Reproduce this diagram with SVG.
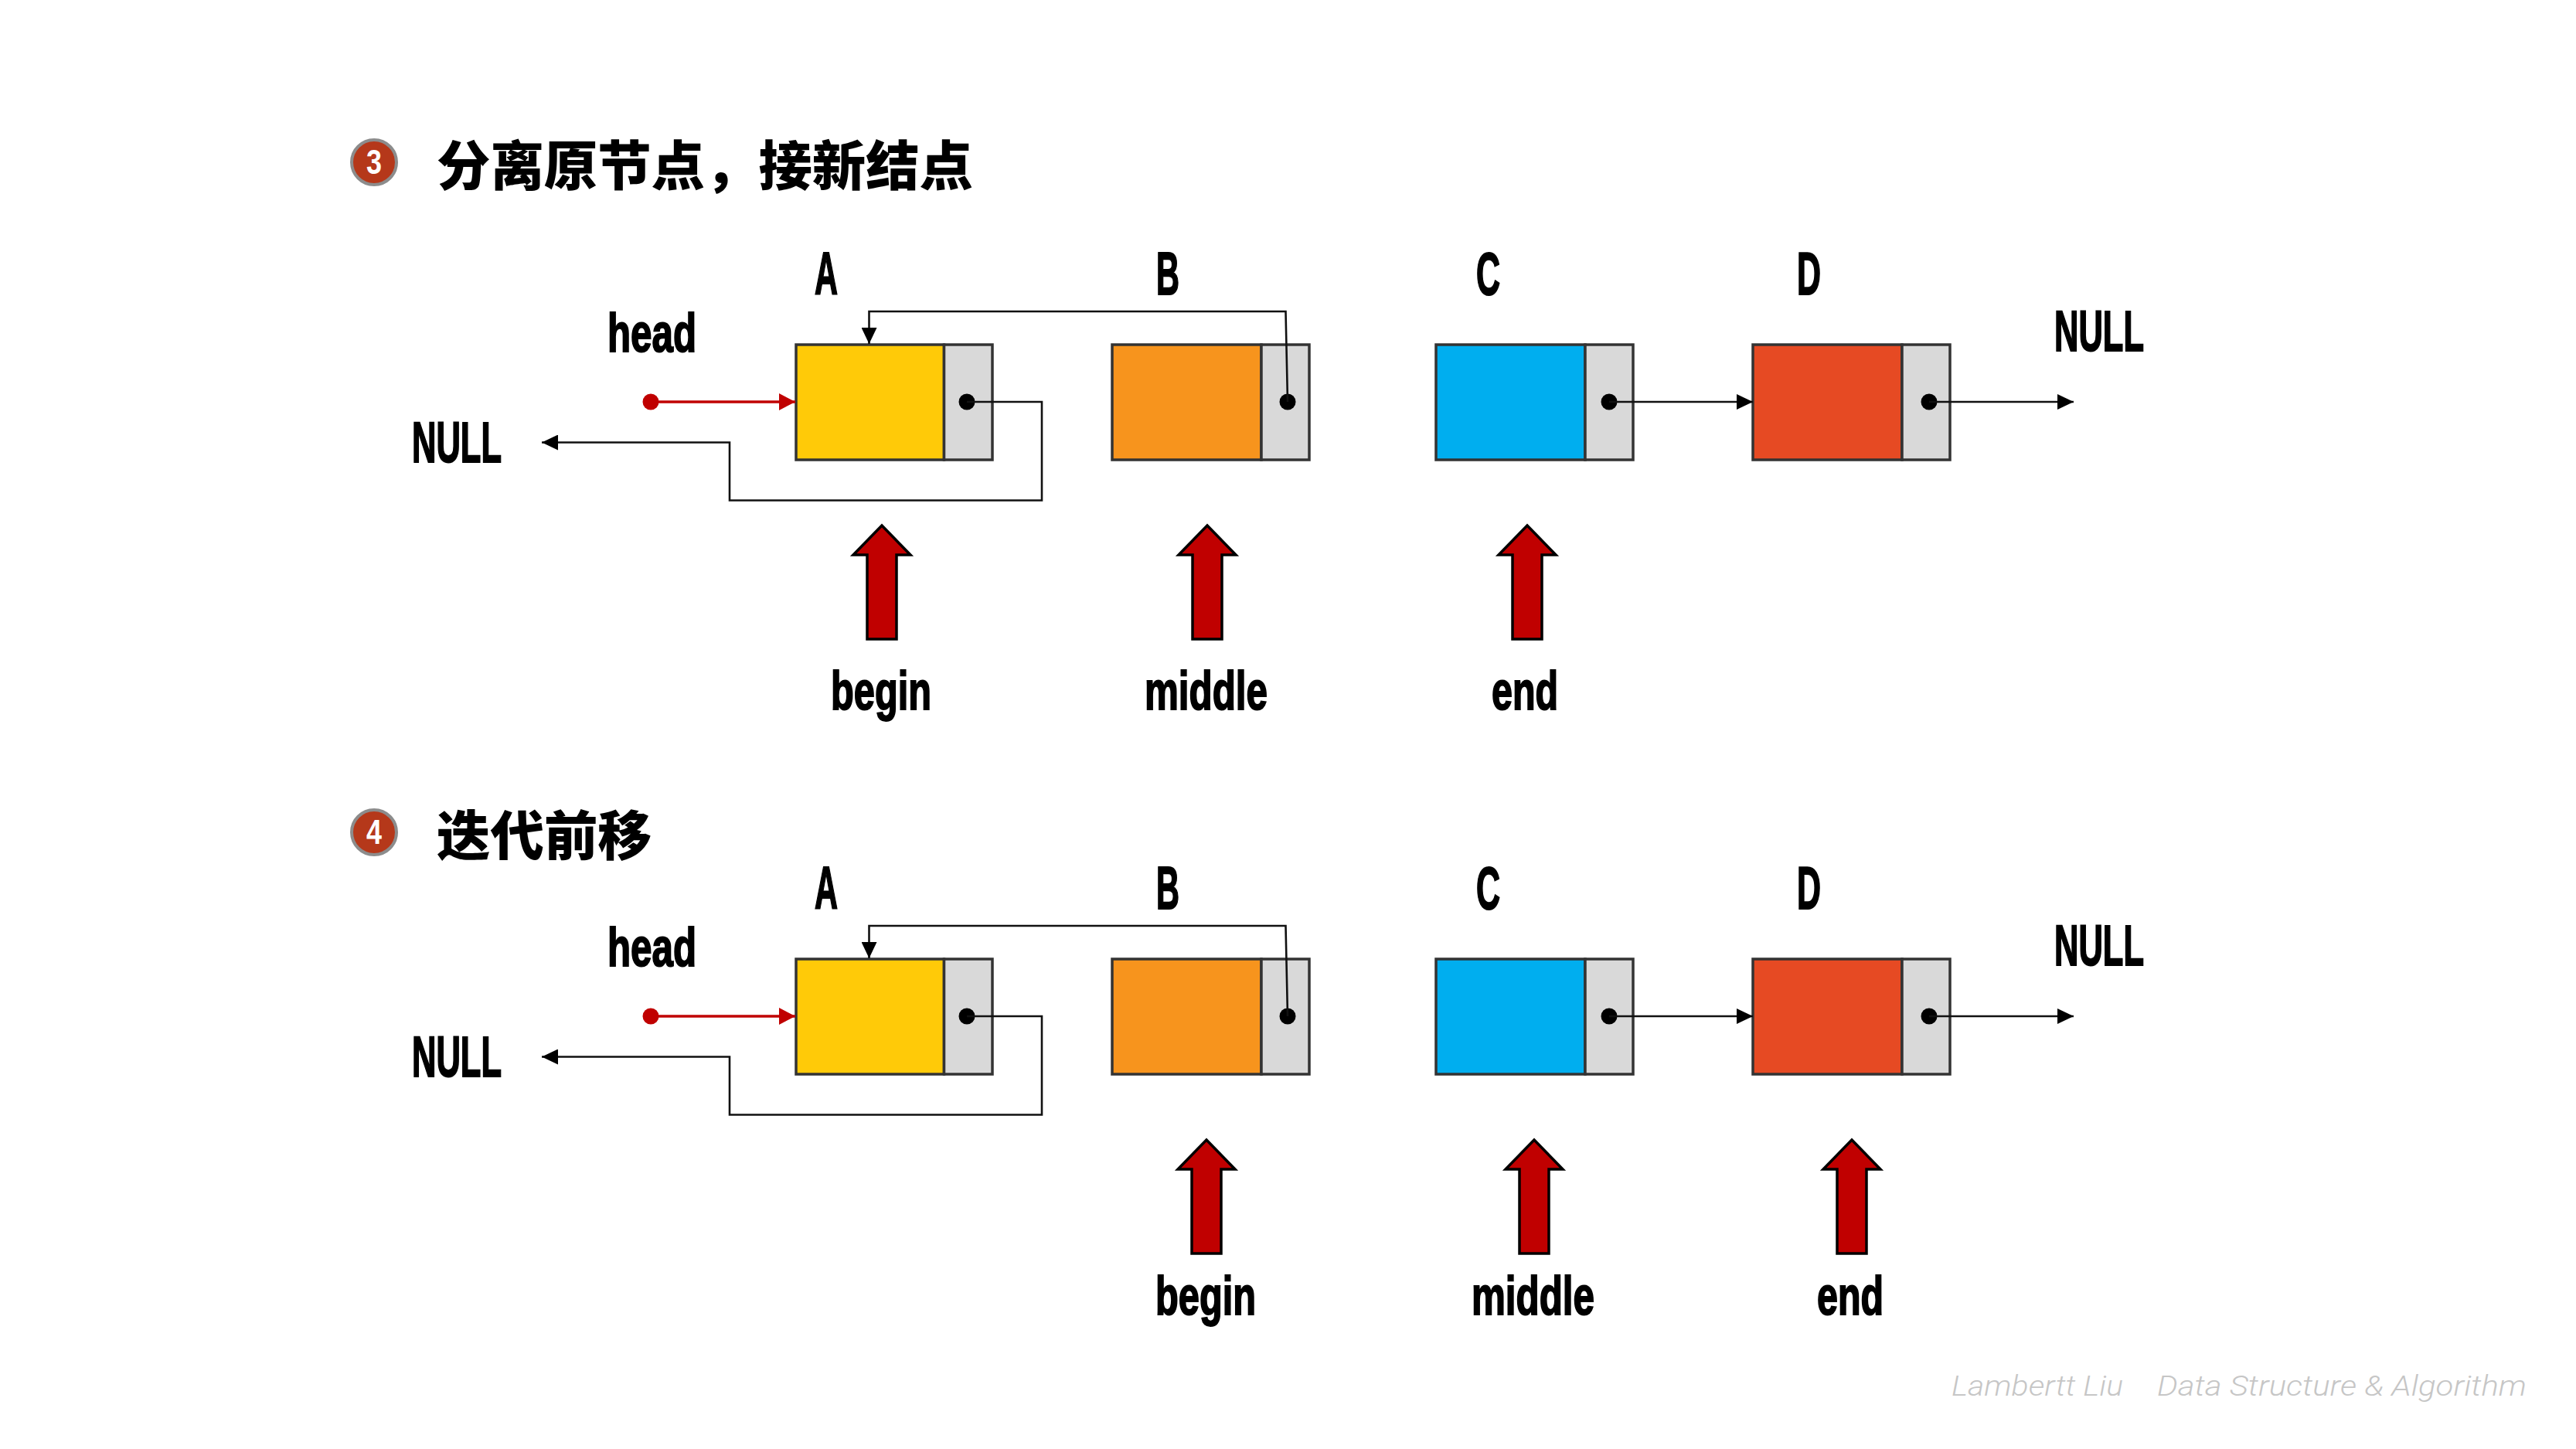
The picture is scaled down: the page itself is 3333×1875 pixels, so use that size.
<svg xmlns="http://www.w3.org/2000/svg" width="3333" height="1875" viewBox="0 0 3333 1875">
<style>
.lbl{font-family:"Liberation Sans",Arial,sans-serif;font-weight:700;font-size:75px;fill:#000;stroke:#000;stroke-width:2px}
.cap{font-size:77px}
.low{font-size:71px}
.title{font-family:"Noto Sans CJK SC",sans-serif;font-weight:900;font-size:69px;fill:#000}
.num{font-family:"Liberation Sans",Arial,sans-serif;font-weight:700;font-size:44px;fill:#fff}
.badge{fill:#B5381A;stroke:#8C8C8C;stroke-width:4}
.wm{font-family:Roboto,"Liberation Sans",sans-serif;font-style:italic;font-weight:300;font-size:37px;fill:#C6C6C6}
.box{stroke:#333;stroke-width:3.5}
.y{fill:#FFCA08}.o{fill:#F7941D}.b{fill:#00AEEF}.r{fill:#E64A23}.g{fill:#D9D9D9}
.dot{fill:#000}
.wire{fill:none;stroke:#111;stroke-width:2.6}
.head{fill:none;stroke:#C00000;stroke-width:3.5}
.big{fill:#C00000;stroke:#000;stroke-width:3.5}
</style>
<defs>
<marker id="ah" markerUnits="userSpaceOnUse" markerWidth="21" markerHeight="20" refX="21" refY="10" orient="auto"><path d="M0,0L21,10L0,20z" fill="#000"/></marker>
<marker id="ar" markerUnits="userSpaceOnUse" markerWidth="21" markerHeight="22" refX="21" refY="11" orient="auto"><path d="M0,0L21,11L0,22z" fill="#C00000"/></marker>
</defs>
<rect width="3333" height="1875" fill="#fff"/>

<g id="title3"><circle class="badge" cx="484" cy="210" r="29"/><text class="num" x="474" y="225" textLength="20" lengthAdjust="spacingAndGlyphs">3</text><text class="title" x="565" y="240" textLength="694" lengthAdjust="spacingAndGlyphs">分离原节点，接新结点</text></g>
<g id="title4"><circle class="badge" cx="484" cy="1077" r="29"/><text class="num" x="474" y="1092" textLength="20" lengthAdjust="spacingAndGlyphs">4</text><text class="title" x="565" y="1107" textLength="278" lengthAdjust="spacingAndGlyphs">迭代前移</text></g>

<g id="s3-A"><rect class="box y" x="1030" y="446" width="191.500" height="149"/><rect class="box g" x="1221.500" y="446" width="62.500" height="149"/><circle class="dot" cx="1251" cy="520" r="10.500"/><text class="lbl cap" x="1054" y="381" textLength="30" lengthAdjust="spacingAndGlyphs">A</text></g>
<g id="s3-B"><rect class="box o" x="1439" y="446" width="193" height="149"/><rect class="box g" x="1632" y="446" width="62" height="149"/><circle class="dot" cx="1666" cy="520" r="10.500"/><text class="lbl cap" x="1496" y="381" textLength="30" lengthAdjust="spacingAndGlyphs">B</text></g>
<g id="s3-C"><rect class="box b" x="1858" y="446" width="193" height="149"/><rect class="box g" x="2051" y="446" width="62" height="149"/><circle class="dot" cx="2082" cy="520" r="10.500"/><text class="lbl cap" x="1910" y="381" textLength="31" lengthAdjust="spacingAndGlyphs">C</text></g>
<g id="s3-D"><rect class="box r" x="2268" y="446" width="193" height="149"/><rect class="box g" x="2461" y="446" width="62" height="149"/><circle class="dot" cx="2496" cy="520" r="10.500"/><text class="lbl cap" x="2325" y="381" textLength="31" lengthAdjust="spacingAndGlyphs">D</text></g>
<g id="s3-head"><text class="lbl low" x="786" y="455" textLength="115" lengthAdjust="spacingAndGlyphs">head</text><circle cx="842" cy="520" r="10.500" fill="#C00000"/></g>
<g id="s3-nullL"><text class="lbl" x="533" y="598" textLength="116" lengthAdjust="spacingAndGlyphs">NULL</text></g>
<g id="s3-nullR"><text class="lbl" x="2658" y="454" textLength="116" lengthAdjust="spacingAndGlyphs">NULL</text></g>
<g id="s3-begin"><polygon class="big" points="1141,680 1178,718 1160,718 1160,827 1122,827 1122,718 1104,718"/><text class="lbl low" x="1075" y="918" textLength="130" lengthAdjust="spacingAndGlyphs">begin</text></g>
<g id="s3-middle"><polygon class="big" points="1562,680 1599,718 1581,718 1581,827 1543,827 1543,718 1525,718"/><text class="lbl low" x="1481" y="918" textLength="159" lengthAdjust="spacingAndGlyphs">middle</text></g>
<g id="s3-end"><polygon class="big" points="1976,680 2013,718 1995,718 1995,827 1957,827 1957,718 1939,718"/><text class="lbl low" x="1930" y="918" textLength="86" lengthAdjust="spacingAndGlyphs">end</text></g>

<g id="s4-A"><rect class="box y" x="1030" y="1241" width="191.500" height="149"/><rect class="box g" x="1221.500" y="1241" width="62.500" height="149"/><circle class="dot" cx="1251" cy="1315" r="10.500"/><text class="lbl cap" x="1054" y="1176" textLength="30" lengthAdjust="spacingAndGlyphs">A</text></g>
<g id="s4-B"><rect class="box o" x="1439" y="1241" width="193" height="149"/><rect class="box g" x="1632" y="1241" width="62" height="149"/><circle class="dot" cx="1666" cy="1315" r="10.500"/><text class="lbl cap" x="1496" y="1176" textLength="30" lengthAdjust="spacingAndGlyphs">B</text></g>
<g id="s4-C"><rect class="box b" x="1858" y="1241" width="193" height="149"/><rect class="box g" x="2051" y="1241" width="62" height="149"/><circle class="dot" cx="2082" cy="1315" r="10.500"/><text class="lbl cap" x="1910" y="1176" textLength="31" lengthAdjust="spacingAndGlyphs">C</text></g>
<g id="s4-D"><rect class="box r" x="2268" y="1241" width="193" height="149"/><rect class="box g" x="2461" y="1241" width="62" height="149"/><circle class="dot" cx="2496" cy="1315" r="10.500"/><text class="lbl cap" x="2325" y="1176" textLength="31" lengthAdjust="spacingAndGlyphs">D</text></g>
<g id="s4-head"><text class="lbl low" x="786" y="1250" textLength="115" lengthAdjust="spacingAndGlyphs">head</text><circle cx="842" cy="1315" r="10.500" fill="#C00000"/></g>
<g id="s4-nullL"><text class="lbl" x="533" y="1393" textLength="116" lengthAdjust="spacingAndGlyphs">NULL</text></g>
<g id="s4-nullR"><text class="lbl" x="2658" y="1249" textLength="116" lengthAdjust="spacingAndGlyphs">NULL</text></g>
<g id="s4-begin"><polygon class="big" points="1561,1475 1598,1513 1580,1513 1580,1622 1542,1622 1542,1513 1524,1513"/><text class="lbl low" x="1495" y="1701" textLength="130" lengthAdjust="spacingAndGlyphs">begin</text></g>
<g id="s4-middle"><polygon class="big" points="1985,1475 2022,1513 2004,1513 2004,1622 1966,1622 1966,1513 1948,1513"/><text class="lbl low" x="1904" y="1701" textLength="159" lengthAdjust="spacingAndGlyphs">middle</text></g>
<g id="s4-end"><polygon class="big" points="2396,1475 2433,1513 2415,1513 2415,1622 2377,1622 2377,1513 2359,1513"/><text class="lbl low" x="2351" y="1701" textLength="86" lengthAdjust="spacingAndGlyphs">end</text></g>

<g id="connectors">
<path class="head" d="M842,520H1029" marker-end="url(#ar)"/>
<path class="wire" d="M1251,520H1348V647.500H944V572.500H701" marker-end="url(#ah)"/>
<path class="wire" d="M1666,520L1663.500,403H1124.500V445" marker-end="url(#ah)"/>
<path class="wire" d="M2082,520H2268" marker-end="url(#ah)"/>
<path class="wire" d="M2496,520H2683" marker-end="url(#ah)"/>
<path class="head" d="M842,1315H1029" marker-end="url(#ar)"/>
<path class="wire" d="M1251,1315H1348V1442.500H944V1367.500H701" marker-end="url(#ah)"/>
<path class="wire" d="M1666,1315L1663.500,1198H1124.500V1240" marker-end="url(#ah)"/>
<path class="wire" d="M2082,1315H2268" marker-end="url(#ah)"/>
<path class="wire" d="M2496,1315H2683" marker-end="url(#ah)"/>
</g>

<g id="watermark"><text class="wm" x="2525" y="1806" textLength="222" lengthAdjust="spacingAndGlyphs">Lambertt Liu</text><text class="wm" x="2791" y="1806" textLength="478" lengthAdjust="spacingAndGlyphs">Data Structure &amp; Algorithm</text></g>
</svg>
